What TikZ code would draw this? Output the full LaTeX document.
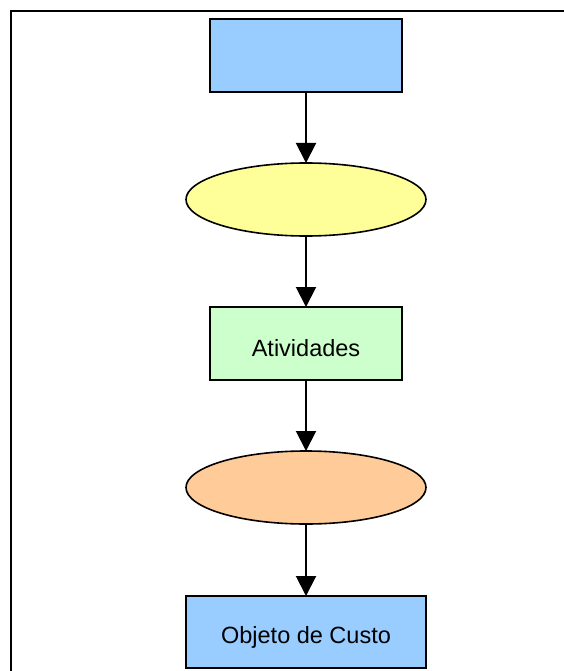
\documentclass[tikz,border=0pt]{standalone}
\usepackage{fontspec}
\setmainfont{Liberation Sans}
\usetikzlibrary{shapes.geometric,arrows.meta}
\definecolor{boxblue}{HTML}{99CCFF}
\definecolor{ellyellow}{HTML}{FFFF99}
\definecolor{boxgreen}{HTML}{CCFFCC}
\definecolor{ellorange}{HTML}{FFCC99}
\begin{document}
\begin{tikzpicture}[x=1pt,y=-1pt,
  shapebase/.style={draw=black,line width=1.6pt,inner sep=0pt,outer sep=0pt},
  boxnode/.style={shapebase,rectangle,minimum width=192pt,minimum height=73pt},
  widebox/.style={shapebase,rectangle,minimum width=240pt,minimum height=72pt},
  ovalnode/.style={shapebase,ellipse,minimum width=240pt,minimum height=73pt},
  caption/.style={inner sep=0pt,font=\fontsize{23.5}{27}\selectfont},
  flow/.style={draw=black,line width=2pt,-{Triangle[length=20pt,width=20pt]}}]
  \useasboundingbox (0,0) rectangle (564,671);
  % outer frame, running past the right and bottom edges
  \begin{scope}
    \clip (0,0) rectangle (564,671);
    \draw[line width=2pt] (11,700) -- (11,11) -- (600,11);
  \end{scope}
  % chain of shapes
  \node[boxnode,fill=boxblue] (top) at (306,55.5) {};
  \node[ovalnode,fill=ellyellow] (res) at (306,199.5) {};
  \node[boxnode,fill=boxgreen] (act) at (306,343.5) {};
  \node[ovalnode,fill=ellorange] (drv) at (306,487.5) {};
  \node[widebox,fill=boxblue] (obj) at (306,632) {};
  % labels, set a little below the box centres
  \node[caption] (acttext) at ([yshift=-5pt]act.center) {Atividades};
  \node[caption] (objtext) at ([yshift=-5pt]obj.center) {Objeto de Custo};
  % connectors
  \draw[flow] (top.south) -- (res.north);
  \draw[flow] (res.south) -- (act.north);
  \draw[flow] (act.south) -- (drv.north);
  \draw[flow] (drv.south) -- (obj.north);
\end{tikzpicture}
\end{document}
